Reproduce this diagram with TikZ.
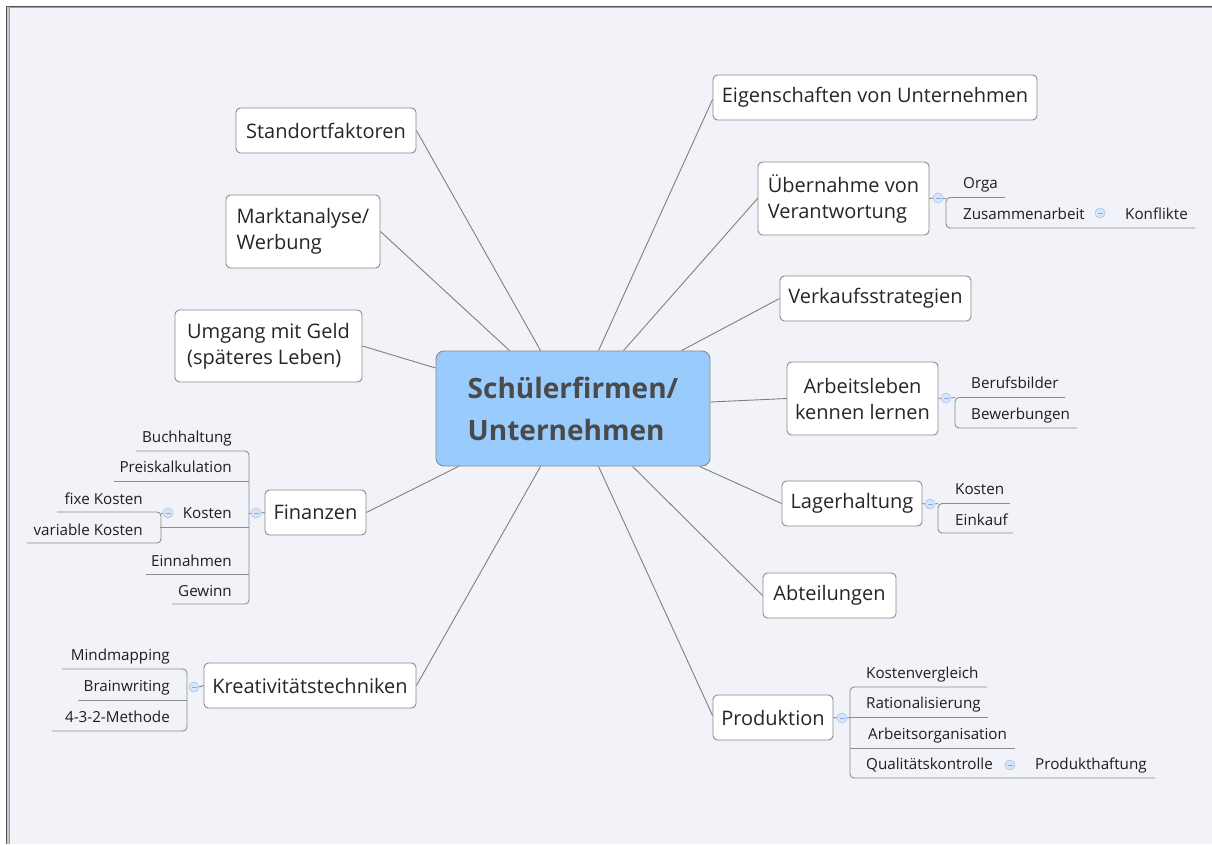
\documentclass[tikz,border=0pt]{standalone}
\usepackage{fontspec}
\setmainfont{Open Sans}
\usetikzlibrary{calc}
\definecolor{bg}{HTML}{F2F3F8}
\definecolor{framedark}{HTML}{555555}
\definecolor{framelight}{HTML}{A0A0A0}
\definecolor{topicborder}{HTML}{8A8A8A}
\definecolor{topictext}{HTML}{262626}
\definecolor{subtext}{HTML}{1E1E1E}
\definecolor{centralfill}{HTML}{99CBFD}
\definecolor{centraltext}{HTML}{4A4A4A}
\definecolor{linecol}{HTML}{808080}
\definecolor{brcol}{HTML}{8C8C8C}
\definecolor{colfill}{HTML}{D8E5F8}
\definecolor{coldraw}{HTML}{A6C2EC}
\definecolor{colminus}{HTML}{8AAADC}
\begin{document}
\begin{tikzpicture}[x=1pt,y=-1pt,
  topic/.style={draw=topicborder, fill=white, rounded corners=4.5pt, line width=0.9pt, inner sep=0pt,
    font=\fontsize{20}{26}\selectfont, text=topictext},
  central/.style={draw=topicborder, fill=centralfill, rounded corners=8pt, line width=0.9pt, inner sep=0pt,
    font=\fontsize{28}{42}\selectfont\bfseries, text=centraltext},
  sub/.style={inner sep=0pt, font=\fontsize{15.2}{18}\selectfont, text=subtext},
  conn/.style={draw=linecol, line width=0.9pt},
  br/.style={draw=brcol, line width=0.9pt, rounded corners=4pt},
  collapse/.style={circle, draw=coldraw, fill=colfill, line width=0.6pt, minimum size=10pt, inner sep=0pt,
    path picture={\draw[colminus, line width=0.7pt] ([xshift=-2.5pt]path picture bounding box.center) -- ([xshift=2.5pt]path picture bounding box.center);}}
]
\useasboundingbox (0,0) rectangle (1212,844);
\fill[white] (0,0) rectangle (1212,844);
\fill[bg] (9,8) rectangle (1212,844);
\fill[framelight!60] (6.5,6.5) rectangle (9,844);
\draw[framedark, line width=1.1pt] (6.5,844) -- (6.5,6.5) -- (1212,6.5);
\draw[framelight, line width=1pt] (9,844) -- (9,7.8) -- (1212,7.8);

% central topic
\node[central, align=left, minimum width=274pt, minimum height=115pt] (c) at (573,408.5) {Schülerfirmen/\\Unternehmen};

% main topics
\node[topic, minimum width=180pt, minimum height=45pt] (std) at (326,130.5) {Standortfaktoren};
\node[topic, align=left, minimum width=154pt, minimum height=73pt] (mkt) at (303,231.5) {Marktanalyse/\\Werbung};
\node[topic, align=left, minimum width=187pt, minimum height=72pt] (geld) at (268.5,346) {Umgang mit Geld\\(späteres Leben)};
\node[topic, minimum width=101pt, minimum height=45pt] (fin) at (315.5,512.5) {Finanzen};
\node[topic, minimum width=212pt, minimum height=45pt] (kre) at (310,685.5) {Kreativitätstechniken};
\node[topic, minimum width=324pt, minimum height=45pt] (eig) at (875,97.5) {Eigenschaften von Unternehmen};
\node[topic, align=left, minimum width=171pt, minimum height=73pt] (ueb) at (843.5,198.5) {Übernahme von\\Verantwortung};
\node[topic, minimum width=191pt, minimum height=45pt] (ver) at (875.5,298.5) {Verkaufsstrategien};
\node[topic, align=center, minimum width=151pt, minimum height=73pt] (arb) at (862.5,398.5) {Arbeitsleben\\kennen lernen};
\node[topic, minimum width=140pt, minimum height=45pt] (lag) at (852,503.5) {Lagerhaltung};
\node[topic, minimum width=133pt, minimum height=45pt] (abt) at (829.5,595.5) {Abteilungen};
\node[topic, minimum width=120pt, minimum height=45pt] (pro) at (773,717.5) {Produktion};

% connectors from central topic
\draw[conn] ($(c.north west)+(105,0)$) -- (std.east);
\draw[conn] ($(c.north west)+(74,0)$) -- (mkt.east);
\draw[conn] ($(c.west)+(0,-40.5)$) -- (geld.east);
\draw[conn] ($(c.south west)+(23,0)$) -- (fin.east);
\draw[conn] ($(c.south west)+(105,0)$) -- (kre.east);
\draw[conn] ($(c.north west)+(163,0)$) -- ($(eig.west)+(0,2)$);
\draw[conn] ($(c.north west)+(188,0)$) -- (ueb.west);
\draw[conn] ($(c.north west)+(246,0)$) -- (ver.west);
\draw[conn] ($(c.east)+(0,-6.5)$) -- (arb.west);
\draw[conn] ($(c.south west)+(264,0)$) -- (lag.west);
\draw[conn] ($(c.south west)+(197,0)$) -- (abt.west);
\draw[conn] ($(c.south west)+(163,0)$) -- ($(pro.west)+(0,-2)$);

% collapse markers
\node[collapse] (kue) at (938,198) {};
\node[collapse] (kz) at (1100,213) {};
\node[collapse] (ka) at (946,398) {};
\node[collapse] (kl) at (930,504) {};
\node[collapse] (kp) at (842,718) {};
\node[collapse] (kq) at (1010,765) {};
\node[collapse] (kf) at (256,513) {};
\node[collapse] (kk) at (168,513) {};
\node[collapse] (kc) at (194,687) {};

% Übernahme von Verantwortung
\draw[conn] (ueb.east) -- (kue.west);
\draw[br] (kue.east) -- (946,198);
\draw[br] (1005,197.5) -- (946,197.5) -- (946,228) -- (1195,228);
\node[sub, anchor=base west] (orga) at (963,188) {Orga};
\node[sub, anchor=base west] (zus) at (963,219) {Zusammenarbeit};
\node[sub, anchor=base west] (konf) at (1125,219) {Konflikte};

% Arbeitsleben
\draw[conn] (arb.east) -- (ka.west);
\draw[br] (ka.east) -- (955,397.5);
\draw[br] (1065,397.5) -- (955,397.5) -- (955,428) -- (1077,428);
\node[sub, anchor=base west] (beruf) at (971,388) {Berufsbilder};
\node[sub, anchor=base west] (bew) at (971,419) {Bewerbungen};

% Lagerhaltung
\draw[conn] (lag.east) -- (kl.west);
\draw[br] (kl.east) -- (938,503.5);
\draw[br] (1010,503.5) -- (938,503.5) -- (938,533) -- (1013,533);
\node[sub, anchor=base west] (lk) at (955,494) {Kosten};
\node[sub, anchor=base west] (ek) at (955,525) {Einkauf};

% Produktion
\draw[conn] (pro.east) -- (kp.west);
\draw[br] (kp.east) -- (850,717.5);
\draw[br] (987,687) -- (850,687) -- (850,778) -- (1155,778);
\draw[br] (850,717.5) -- (988,717.5);
\draw[br] (850,748) -- (1015,748);
\node[sub, anchor=base west] (kv) at (866,678) {Kostenvergleich};
\node[sub, anchor=base west] (rat) at (866,708) {Rationalisierung};
\node[sub, anchor=base west] (ao) at (868,739) {Arbeitsorganisation};
\node[sub, anchor=base west] (qk) at (866,769) {Qualitätskontrolle};
\node[sub, anchor=base west] (ph) at (1035,769) {Produkthaftung};

% Finanzen
\draw[conn] (fin.west) -- (kf.east);
\draw[br] (kf.west) -- (249,513);
\draw[br] (136,451) -- (249,451) -- (249,604) -- (172,604);
\draw[br] (114,481) -- (249,481);
\draw[br] (160,527) -- (249,527);
\draw[br] (146,574) -- (249,574);
\draw[br] (kk.west) -- (161,513);
\draw[br] (57,512) -- (161,512) -- (161,543) -- (27,543);
\node[sub, anchor=base east] (bh) at (232,442) {Buchhaltung};
\node[sub, anchor=base east] (pk) at (232,472) {Preiskalkulation};
\node[sub, anchor=base east] (fk) at (232,518) {Kosten};
\node[sub, anchor=base east] (fix) at (143,504) {fixe Kosten};
\node[sub, anchor=base east] (var) at (143,535) {variable Kosten};
\node[sub, anchor=base east] (ein) at (232,566) {Einnahmen};
\node[sub, anchor=base east] (gew) at (232,596) {Gewinn};

% Kreativitätstechniken
\draw[conn] (kre.west) -- (kc.east);
\draw[br] (62,669) -- (187,669) -- (187,731) -- (52,731);
\draw[br] (78,700) -- (187,700);
\node[sub, anchor=base east] (mm) at (170,660) {Mindmapping};
\node[sub, anchor=base east] (bw) at (170,691) {Brainwriting};
\node[sub, anchor=base east] (m432) at (170,722) {4-3-2-Methode};
\end{tikzpicture}
\end{document}
